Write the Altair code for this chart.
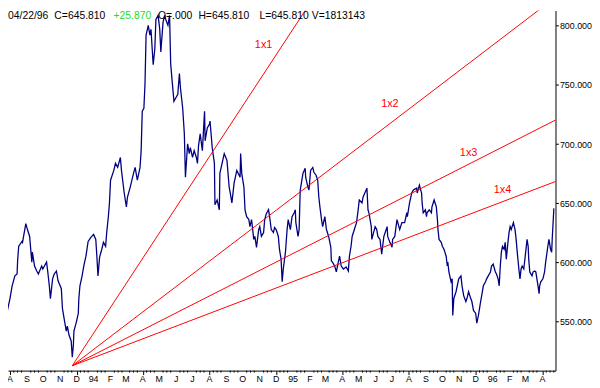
import altair as alt
import pandas as pd

# ---- price series (daily close) ----
dates = [
    "1993-07-14", "1993-07-19", "1993-07-25", "1993-07-27", "1993-08-01", "1993-08-05",
    "1993-08-10", "1993-08-14", "1993-08-15", "1993-08-17", "1993-08-23", "1993-08-24",
    "1993-08-30", "1993-09-02", "1993-09-06", "1993-09-10", "1993-09-11", "1993-09-15",
    "1993-09-19", "1993-09-22", "1993-09-28", "1993-09-30", "1993-10-07", "1993-10-09",
    "1993-10-12", "1993-10-14", "1993-10-18", "1993-10-21", "1993-10-25", "1993-10-28",
    "1993-11-03", "1993-11-05", "1993-11-08", "1993-11-12", "1993-11-14", "1993-11-17",
    "1993-11-21", "1993-11-23", "1993-11-25", "1993-11-26", "1993-11-30", "1993-12-04",
    "1993-12-05", "1993-12-07", "1993-12-11", "1993-12-14", "1993-12-18", "1993-12-22",
    "1993-12-27", "1994-01-01", "1994-01-05", "1994-01-07", "1994-01-09", "1994-01-12",
    "1994-01-16", "1994-01-19", "1994-01-23", "1994-01-25", "1994-01-28", "1994-01-30",
    "1994-02-01", "1994-02-07", "1994-02-10", "1994-02-14", "1994-02-19", "1994-02-21",
    "1994-02-26", "1994-03-02", "1994-03-04", "1994-03-09", "1994-03-15", "1994-03-18",
    "1994-03-22", "1994-03-27", "1994-03-29", "1994-03-31", "1994-04-03", "1994-04-05",
    "1994-04-07", "1994-04-11", "1994-04-14", "1994-04-16", "1994-04-20", "1994-04-23",
    "1994-04-25", "1994-04-29", "1994-05-02", "1994-05-04", "1994-05-08", "1994-05-11",
    "1994-05-13", "1994-05-17", "1994-05-20", "1994-05-22", "1994-05-24", "1994-05-28",
    "1994-05-31", "1994-06-04", "1994-06-07", "1994-06-09", "1994-06-13", "1994-06-16",
    "1994-06-18", "1994-06-22", "1994-06-25", "1994-06-27", "1994-07-01", "1994-07-04",
    "1994-07-08", "1994-07-10", "1994-07-12", "1994-07-15", "1994-07-19", "1994-07-23",
    "1994-07-24", "1994-07-28", "1994-08-01", "1994-08-02", "1994-08-06", "1994-08-10",
    "1994-08-11", "1994-08-15", "1994-08-19", "1994-08-20", "1994-08-28", "1994-09-02",
    "1994-09-06", "1994-09-08", "1994-09-11", "1994-09-15", "1994-09-20", "1994-09-26",
    "1994-09-27", "1994-09-29", "1994-10-03", "1994-10-05", "1994-10-08", "1994-10-12",
    "1994-10-14", "1994-10-17", "1994-10-21", "1994-10-23", "1994-10-26", "1994-10-30",
    "1994-11-01", "1994-11-04", "1994-11-08", "1994-11-10", "1994-11-13", "1994-11-17",
    "1994-11-19", "1994-11-22", "1994-11-26", "1994-11-28", "1994-12-01", "1994-12-05",
    "1994-12-07", "1994-12-10", "1994-12-12", "1994-12-14", "1994-12-18", "1994-12-21",
    "1994-12-23", "1994-12-27", "1994-12-30", "1995-01-03", "1995-01-05", "1995-01-06",
    "1995-01-10", "1995-01-12", "1995-01-14", "1995-01-17", "1995-01-19", "1995-01-23",
    "1995-01-24", "1995-01-28", "1995-01-30", "1995-02-02", "1995-02-06", "1995-02-08",
    "1995-02-12", "1995-02-15", "1995-02-17", "1995-02-19", "1995-02-22", "1995-02-24",
    "1995-02-28", "1995-03-03", "1995-03-07", "1995-03-11", "1995-03-12", "1995-03-14",
    "1995-03-18", "1995-03-21", "1995-03-25", "1995-03-27", "1995-03-30", "1995-04-03",
    "1995-04-08", "1995-04-12", "1995-04-14", "1995-04-17", "1995-04-19", "1995-04-23",
    "1995-04-27", "1995-04-30", "1995-05-02", "1995-05-07", "1995-05-09", "1995-05-13",
    "1995-05-16", "1995-05-18", "1995-05-20", "1995-05-24", "1995-05-25", "1995-05-31",
    "1995-06-03", "1995-06-05", "1995-06-09", "1995-06-12", "1995-06-16", "1995-06-22",
    "1995-06-23", "1995-06-27", "1995-07-01", "1995-07-02", "1995-07-06", "1995-07-10",
    "1995-07-15", "1995-07-19", "1995-07-24", "1995-07-28", "1995-07-29", "1995-08-02",
    "1995-08-06", "1995-08-09", "1995-08-15", "1995-08-16", "1995-08-20", "1995-08-24",
    "1995-08-25", "1995-08-27", "1995-08-31", "1995-09-02", "1995-09-03", "1995-09-07",
    "1995-09-11", "1995-09-12", "1995-09-16", "1995-09-20", "1995-09-22", "1995-09-23",
    "1995-09-25", "1995-09-29", "1995-10-01", "1995-10-04", "1995-10-08", "1995-10-10",
    "1995-10-11", "1995-10-13", "1995-10-17", "1995-10-19", "1995-10-20", "1995-10-22",
    "1995-10-26", "1995-10-31", "1995-11-04", "1995-11-06", "1995-11-09", "1995-11-13",
    "1995-11-15", "1995-11-18", "1995-11-22", "1995-11-24", "1995-11-27", "1995-12-01",
    "1995-12-03", "1995-12-06", "1995-12-10", "1995-12-12", "1995-12-15", "1995-12-19",
    "1995-12-21", "1995-12-24", "1995-12-28", "1995-12-30", "1996-01-02", "1996-01-06",
    "1996-01-08", "1996-01-11", "1996-01-13", "1996-01-15", "1996-01-17", "1996-01-19",
    "1996-01-22", "1996-01-24", "1996-01-26", "1996-01-29", "1996-01-31", "1996-02-02",
    "1996-02-04", "1996-02-08", "1996-02-11", "1996-02-13", "1996-02-15", "1996-02-18",
    "1996-02-20", "1996-02-22", "1996-02-24", "1996-02-27", "1996-02-29", "1996-03-04",
    "1996-03-06", "1996-03-07", "1996-03-09", "1996-03-13", "1996-03-15", "1996-03-18",
    "1996-03-20", "1996-03-24", "1996-03-26", "1996-03-27", "1996-03-29", "1996-04-02",
    "1996-04-05", "1996-04-07", "1996-04-11", "1996-04-13", "1996-04-16", "1996-04-18",
    "1996-04-19", "1996-04-22",
]
values = [
    556.3, 558.8, 550.4, 558.8, 569.6, 580.4,
    588.8, 590.4, 601.3, 613.8, 617.9, 617.1,
    632.9, 627.9, 622.1, 600.4, 608.8, 597.1,
    592.9, 590.4, 597.1, 594.6, 600.4, 592.9,
    580.4, 569.6, 586.3, 590.4, 592.9, 584.6,
    577.9, 561.3, 552.9, 542.1, 546.3, 538.8,
    533.8, 520.0, 530.4, 542.1, 548.8, 557.1,
    569.6, 580.4, 588.8, 597.1, 605.4, 617.9,
    621.3, 623.8, 619.6, 605.4, 588.8, 604.6,
    611.3, 617.1, 613.8, 625.4, 638.8, 650.4,
    669.6, 677.9, 683.8, 680.4, 688.8, 677.9,
    658.8, 647.1, 655.4, 663.8, 675.4, 680.4,
    669.6, 680.4, 694.6, 727.9, 730.4, 750.4,
    792.1, 800.4, 792.1, 797.1, 767.1, 780.4,
    805.4, 808.8, 797.1, 777.9, 802.9, 808.8,
    805.4, 800.4, 808.8, 767.9, 757.1, 736.3,
    738.8, 742.1, 759.6, 747.1, 730.4, 708.8,
    672.1, 700.4, 692.1, 697.1, 688.8, 694.6,
    688.8, 683.8, 698.8, 708.8, 694.6, 727.9,
    702.9, 713.8, 717.1, 719.6, 697.1, 683.8,
    648.8, 652.9, 644.6, 675.4, 692.1, 686.3,
    663.8, 658.8, 650.4, 667.1, 677.9, 672.1,
    692.1, 675.4, 663.8, 644.6, 638.8, 636.3,
    630.4, 636.3, 619.6, 622.1, 612.9, 627.9,
    630.4, 622.1, 625.4, 636.3, 641.3, 644.6,
    638.8, 627.9, 625.4, 629.6, 627.9, 622.1,
    611.3, 602.9, 583.8, 594.6, 608.8, 627.9,
    636.3, 627.9, 638.8, 642.1, 644.6, 633.8,
    622.1, 627.9, 661.3, 669.6, 675.4, 679.6,
    672.1, 663.8, 661.3, 677.9, 680.4, 676.3,
    673.8, 669.6, 655.4, 647.1, 636.3, 630.4,
    638.8, 627.9, 622.1, 612.9, 601.3, 600.4,
    597.1, 592.1, 601.3, 605.4, 597.1, 594.6,
    596.3, 592.9, 605.4, 613.8, 622.1, 627.9,
    633.8, 644.6, 652.9, 650.4, 655.4, 659.6,
    662.9, 644.6, 641.3, 630.4, 619.6, 630.4,
    627.9, 622.1, 619.6, 607.1, 622.1, 630.4,
    622.1, 617.1, 612.9, 619.6, 622.1, 636.3,
    627.9, 633.8, 633.8, 642.1, 638.8, 650.4,
    658.8, 661.3, 662.9, 658.8, 665.4, 658.8,
    650.4, 642.1, 644.6, 638.8, 642.1, 644.6,
    642.1, 647.1, 652.9, 647.1, 636.3, 627.9,
    619.6, 617.1, 613.8, 611.3, 605.4, 597.1,
    600.4, 592.1, 583.8, 586.3, 555.4, 569.6,
    575.4, 586.3, 588.8, 580.4, 572.1, 567.1,
    569.6, 575.4, 569.6, 567.1, 559.6, 557.1,
    548.8, 555.4, 567.1, 572.1, 580.4, 583.8,
    586.3, 588.8, 592.1, 597.1, 598.8, 592.1,
    590.4, 586.3, 580.4, 597.1, 608.8, 613.8,
    611.3, 617.1, 602.9, 617.1, 625.4, 630.4,
    627.9, 633.8, 627.9, 619.6, 608.8, 594.6,
    586.3, 594.6, 597.1, 594.6, 602.9, 619.6,
    613.8, 602.9, 592.1, 588.8, 592.1, 592.9,
    592.1, 580.4, 573.8, 580.4, 583.8, 586.3,
    592.1, 600.4, 613.8, 619.6, 611.3, 608.8,
    619.9, 645.81,
]

# ---- Gann fan lines ----
fan_names = ["1x1", "1x2", "1x3", "1x4"]
fan_start_date = "1993-11-23"
fan_start_value = 512.9
fan_end_date = "1996-04-25"
fan_end_values = [1135.3, 824.1, 720.4, 668.5]
fan_label_dates = ["1994-11-08", "1995-06-27", "1995-11-18", "1996-01-19"]
fan_label_values = [783.8, 733.8, 692.9, 661.3]

# ---- header ----
header_texts = ["04/22/96", "C=645.810", "+25.870", "O=.000", "H=645.810", "L=645.810", "V=1813143"]
header_colors = ["black", "black", "#22dd22", "black", "black", "black", "black"]
header_x = [0, 47, 107, 152, 193, 255, 308]

# ---- axis ticks / labels ----
y_ticks = [550, 600, 650, 700, 750, 800]
month_labels = ["A", "S", "O", "N", "D", "94", "F", "M", "A", "M", "J", "J", "A", "S", "O", "N", "D",
                "95", "F", "M", "A", "M", "J", "J", "A", "S", "O", "N", "D", "96", "F", "M", "A"]
month_starts = [f"{m.year:04d}-{m.month:02d}-01" for m in pd.date_range("1993-08-01", "1996-04-01", freq="MS")]
minor_days = [8, 15, 22]

price_df = pd.DataFrame({"date": dates, "value": values})
fan_rows = []
for n, ev in zip(fan_names, fan_end_values):
    fan_rows.append({"name": n, "date": fan_start_date, "value": fan_start_value})
    fan_rows.append({"name": n, "date": fan_end_date, "value": ev})
fan_df = pd.DataFrame(fan_rows)
lab_df = pd.DataFrame({"name": fan_names, "date": fan_label_dates, "value": fan_label_values})
mlab_df = pd.DataFrame({"date": month_starts, "label": month_labels})
minor_df = pd.DataFrame({"date": [s[:8] + f"{d:02d}" for s in month_starts for d in minor_days]})
month_ticks = [int(pd.Timestamp(s, tz="UTC").value // 10**6) for s in month_starts]

FONT = "Liberation Sans"
W, H = 555, 365

xscale = alt.Scale(
    type="utc",
    domain=[alt.DateTime(year=1993, month=7, date=28, hours=10, utc=True),
            alt.DateTime(year=1996, month=4, date=25, utc=True)],
)
yscale = alt.Scale(domain=[508.75, 812.9], zero=False, nice=False)

xaxis = alt.Axis(
    values=month_ticks,
    title=None,
    grid=False,
    domainColor="black",
    tickColor="black",
    tickSize=4,
    labels=False,
)
yaxis = alt.Axis(
    orient="right",
    values=y_ticks,
    format=".3f",
    title=None,
    grid=False,
    domainColor="black",
    tickColor="black",
    tickSize=3,
    labelFont=FONT,
    labelFontSize=9,
    labelColor="black",
    labelPadding=1,
)

price = alt.Chart(price_df).mark_line(color="#000080", strokeWidth=1.3, clip=True).encode(
    x=alt.X("date:T", scale=xscale, axis=xaxis),
    y=alt.Y("value:Q", scale=yscale, axis=yaxis),
)

minor = alt.Chart(minor_df).mark_rule(color="black", strokeWidth=1).encode(
    x=alt.X("date:T"),
    y=alt.value(H),
    y2=alt.value(H + 2),
)

month_text = alt.Chart(mlab_df).mark_text(
    font=FONT, fontSize=9, color="black", align="center", baseline="top"
).encode(
    x=alt.X("date:T"),
    y=alt.value(H + 5),
    text="label:N",
)

fan = alt.Chart(fan_df).mark_line(color="#ff0000", strokeWidth=1, clip=True).encode(
    x=alt.X("date:T"),
    y=alt.Y("value:Q"),
    detail="name:N",
)

labels = alt.Chart(lab_df).mark_text(color="#ff0000", font=FONT, fontSize=11, align="center", baseline="middle").encode(
    x=alt.X("date:T"),
    y=alt.Y("value:Q"),
    text="name:N",
)

headers = []
for t, c, hx in zip(header_texts, header_colors, header_x):
    headers.append(
        alt.Chart(pd.DataFrame({"a": [0]})).mark_text(
            font=FONT, fontSize=10.5, color=c, align="left", baseline="alphabetic"
        ).encode(x=alt.value(hx), y=alt.value(9), text=alt.value(t))
    )

chart = alt.layer(price, minor, month_text, fan, labels, *headers).properties(
    width=W,
    height=H,
    autosize=alt.AutoSizeParams(type="none"),
    padding={"left": 0, "top": 0, "right": 37, "bottom": 13},
    background="white",
).configure_view(stroke=None)

chart.save("out.html", embed_options={"renderer": "svg", "actions": False})
